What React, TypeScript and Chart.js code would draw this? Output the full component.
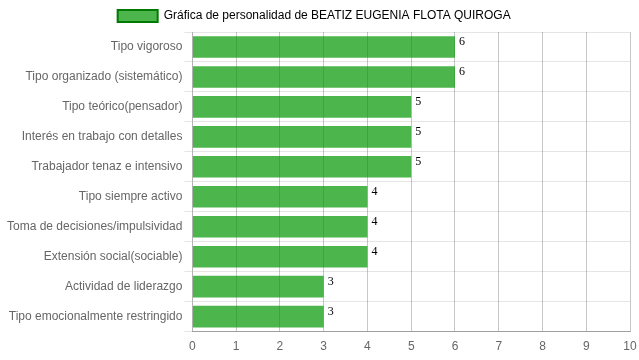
import React, { useEffect, useRef } from "react";
import { Chart, registerables } from "chart.js";

Chart.register(...registerables);

const categories = [
  "Tipo vigoroso",
  "Tipo organizado (sistemático)",
  "Tipo teórico(pensador)",
  "Interés en trabajo con detalles",
  "Trabajador tenaz e intensivo",
  "Tipo siempre activo",
  "Toma de decisiones/impulsividad",
  "Extensión social(sociable)",
  "Actividad de liderazgo",
  "Tipo emocionalmente restringido",
];
const values = [6, 6, 5, 5, 5, 4, 4, 4, 3, 3];
const seriesLabel = "Gráfica de personalidad de BEATIZ EUGENIA FLOTA QUIROGA";

const valueLabels = {
  id: "valueLabels",
  afterDatasetsDraw(chart: any) {
    const ctx = chart.ctx;
    const meta = chart.getDatasetMeta(0);
    ctx.save();
    ctx.font = "12px 'Liberation Serif', 'DejaVu Serif', serif";
    ctx.fillStyle = "#000";
    ctx.textAlign = "left";
    ctx.textBaseline = "alphabetic";
    meta.data.forEach((bar: any, i: number) => {
      ctx.fillText(String(values[i]), bar.x + 4, bar.y - 2);
    });
    ctx.restore();
  },
};

export default function App() {
  const ref = useRef<HTMLCanvasElement>(null);
  useEffect(() => {
    if (!ref.current) return;
    const chart = new Chart(ref.current, {
      type: "bar",
      data: {
        labels: categories,
        datasets: [
          {
            label: seriesLabel,
            data: values,
            backgroundColor: "rgba(0,150,0,0.7)",
            borderWidth: 0,
          },
        ],
      },
      options: {
        indexAxis: "y",
        animation: false,
        responsive: false,
        maintainAspectRatio: false,
        layout: { padding: { left: 5, right: 9, bottom: 6 } },
        font: { family: "'Liberation Sans', Arial, sans-serif", size: 12 },
        plugins: {
          legend: {
            labels: {
              color: "#666",
              font: { family: "'Liberation Sans', Arial, sans-serif", size: 12 },
              generateLabels: (chart: any) => [
                {
                  text: seriesLabel + "  ",
                  fillStyle: "rgba(0,150,0,0.7)",
                  strokeStyle: "#007a00",
                  lineWidth: 2,
                  datasetIndex: 0,
                  hidden: false,
                },
              ],
            },
          },
          tooltip: { enabled: false },
        },
        scales: {
          x: {
            min: 0,
            max: 10,
            ticks: {
              stepSize: 1,
              padding: 0,
              color: "#666",
              font: { family: "'Liberation Sans', Arial, sans-serif", size: 12 },
            },
            grid: { color: "rgba(0,0,0,0.22)", drawTicks: true, tickLength: 8, tickColor: "rgba(0,0,0,0)" },
            border: { color: "rgba(0,0,0,0.3)" },
          },
          y: {
            ticks: {
              padding: 2,
              color: "#666",
              font: { family: "'Liberation Sans', Arial, sans-serif", size: 12 },
            },
            grid: { color: "rgba(0,0,0,0.1)" },
            border: { color: "rgba(0,0,0,0.1)" },
          },
        },
      },
      plugins: [valueLabels],
    });
    return () => chart.destroy();
  }, []);
  return (
    <div style={{ position: "absolute", left: 0, top: 0, width: 639, height: 360 }}>
      <canvas ref={ref} width={639} height={360} style={{ width: 639, height: 360 }} />
    </div>
  );
}
